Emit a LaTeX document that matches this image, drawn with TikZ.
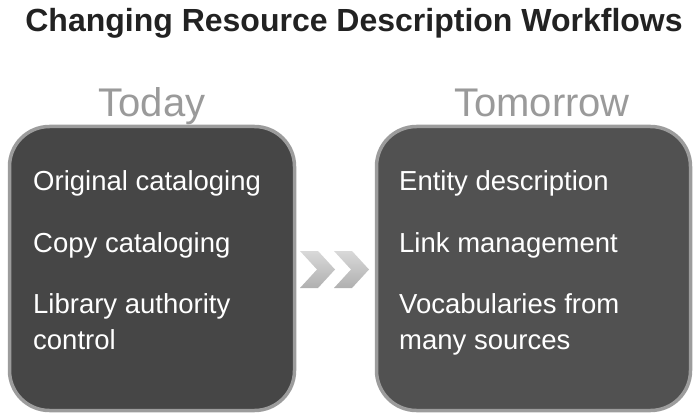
\documentclass[tikz,border=0pt]{standalone}
\usepackage{fontspec}
\setmainfont{Liberation Sans}
\definecolor{boxleft}{HTML}{464646}
\definecolor{boxright}{HTML}{515151}
\definecolor{boxrim}{HTML}{9C9C9C}
\definecolor{headgray}{HTML}{9A9A9A}
\definecolor{titlecol}{HTML}{222222}
\begin{document}
\begin{tikzpicture}[x=1pt,y=-1pt,
  panel/.style={draw=boxrim, line width=3.5pt, rounded corners=40pt},
  heading/.style={anchor=base, text=headgray, font=\fontsize{40}{44}\selectfont, inner sep=0pt},
  item/.style={anchor=base west, text=white, font=\fontsize{27.5}{36}\selectfont, align=left, inner sep=0pt},
  chev/.style={draw=none, top color=gray!30, bottom color=gray!62}
]
\useasboundingbox (0,0) rectangle (693,414);
\fill[white] (0,0) rectangle (693,414);
% title
\node[anchor=base, text=titlecol, font=\fontsize{32}{35}\bfseries\selectfont, inner sep=0pt] (title) at (354,32) {Changing Resource Description Workflows};
% headings
\node[heading] (today) at (152,117) {Today};
\node[heading] (tomorrow) at (542,117) {Tomorrow};
% panels
\draw[panel, fill=boxleft] (9.5,126.5) rectangle (294.5,410.5);
\draw[panel, fill=boxright] (376.5,126.5) rectangle (690.5,410.5);
% left items
\node[item] (orig) at (33,190) {Original cataloging};
\node[item] (copy) at (33,252) {Copy cataloging};
\node[item] (auth) at (33,349) {Library authority\\control};
% right items
\node[item] (entity) at (399,190) {Entity description};
\node[item] (link) at (399,252) {Link management};
\node[item] (vocab) at (399,349) {Vocabularies from\\many sources};
% chevrons
\shade[chev] (300,251) -- (318,251) -- (335,269.5) -- (318,288) -- (300,288) -- (317,269.5) -- cycle;
\shade[chev] (334,251) -- (352,251) -- (369,269.5) -- (352,288) -- (334,288) -- (351,269.5) -- cycle;
\end{tikzpicture}
\end{document}
